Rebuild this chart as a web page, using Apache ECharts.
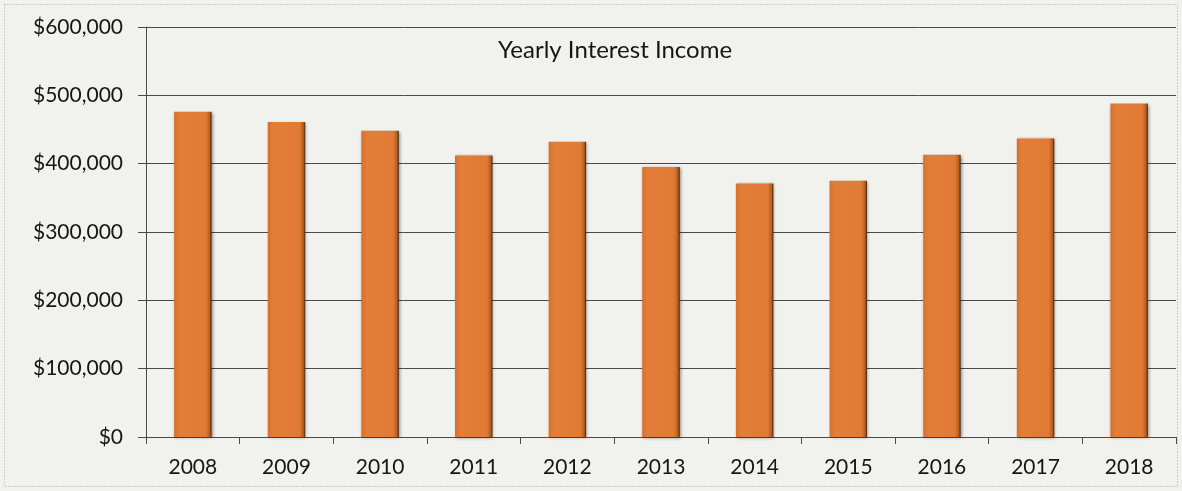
<!DOCTYPE html>
<html>
<head>
<meta charset="utf-8">
<title>Yearly Interest Income</title>
<script src="https://cdn.jsdelivr.net/npm/echarts@6/dist/echarts.min.js"></script>
<style>
  html, body { margin: 0; padding: 0; background: #f1f1ee; }
  #chart { width: 1182px; height: 491px; }
</style>
</head>
<body>
<div id="chart"></div>
<script>
// Yearly interest income, 2008-2018
const years = ['2008', '2009', '2010', '2011', '2012', '2013', '2014', '2015', '2016', '2017', '2018'];
const income = [476000, 461000, 448000, 412000, 432000, 395000, 371000, 375000, 413000, 437000, 488000];
const yTicks = [0, 100000, 200000, 300000, 400000, 500000, 600000];

const FONT = 'Lato, "Noto Sans", sans-serif';
const ink = '#161616';
const rule = '#4a4a4a';

const chart = echarts.init(document.getElementById('chart'), null, { renderer: 'canvas' });

chart.setOption({
  backgroundColor: '#f1f1ee',
  animation: false,
  title: {
    text: 'Yearly Interest Income',
    left: 493,
    top: 33,
    textStyle: { fontFamily: FONT, fontSize: 24, fontWeight: 'normal', color: ink }
  },
  graphic: [{
    type: 'rect',
    shape: { x: 4.5, y: 4.5, width: 1173, height: 482 },
    style: { fill: 'none', stroke: '#a8a8a8', lineWidth: 1, lineDash: [1, 2] },
    silent: true,
    z: -1
  }],
  grid: { left: 146, right: 6, top: 27, bottom: 54, containLabel: false },
  xAxis: {
    type: 'category',
    data: years,
    axisLine: { show: true, lineStyle: { color: rule, width: 1 } },
    axisTick: { show: true, length: 7, lineStyle: { color: rule } },
    axisLabel: { fontFamily: FONT, fontSize: 21, color: ink, margin: 20 }
  },
  yAxis: {
    type: 'value',
    min: yTicks[0],
    max: yTicks[yTicks.length - 1],
    interval: yTicks[1] - yTicks[0],
    axisLine: { show: true, lineStyle: { color: rule, width: 1 } },
    axisTick: { show: true, length: 8, lineStyle: { color: rule } },
    splitLine: { show: true, lineStyle: { color: rule, width: 1 } },
    axisLabel: {
      fontFamily: FONT, fontSize: 21, color: ink, margin: 23,
      formatter: v => '$' + v.toLocaleString('en-US')
    }
  },
  series: [{
    type: 'bar',
    data: income,
    barWidth: '40%',
    itemStyle: {
      color: {
        type: 'linear', x: 0, y: 0, x2: 1, y2: 0,
        colorStops: [
          { offset: 0, color: '#d6712d' },
          { offset: 0.15, color: '#e37e39' },
          { offset: 0.85, color: '#e07a35' },
          { offset: 0.95, color: '#b65d1d' },
          { offset: 1, color: '#3e2410' }
        ]
      },
      shadowColor: 'rgba(40, 20, 5, 0.45)',
      shadowBlur: 3,
      shadowOffsetX: 1,
      shadowOffsetY: 1
    }
  }]
});
</script>
</body>
</html>
